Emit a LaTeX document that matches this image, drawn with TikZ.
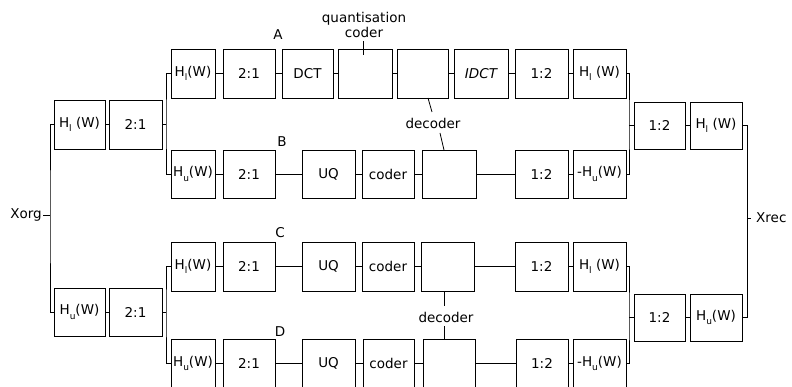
\documentclass[tikz,border=0pt]{standalone}
\usepackage{fontspec}
\setmainfont{DejaVu Sans}
\newcommand\hsub[1]{H\raisebox{-0.6ex}{\fontsize{9}{9}\selectfont #1}}
\tikzset{
  blk/.style={draw, line width=0.9pt, inner sep=0pt, outer sep=0pt, font=\fontsize{13.5}{15}\selectfont},
  wire/.style={line width=0.8pt},
  lbl/.style={font=\fontsize{13.5}{15}\selectfont, inner sep=0pt}
}
\newcommand\bx[6]{\node[blk, minimum width={#4-#2}, minimum height={#5-#3}] (#1) at ({(#2+#4)/2},{(#3+#5)/2}) {#6};}
\begin{document}
\begin{tikzpicture}[x=1pt,y=-1pt]
\useasboundingbox (0,0) rectangle (792,387);
\clip (0,0) rectangle (792,387);
% left stage
\bx{Lah}{54}{100}{105}{149}{\hsub{l} (W)}
\bx{Lad}{109}{100}{162}{149}{2:1}
\bx{Lbh}{54}{288}{105}{336}{\hsub{u}(W)}
\bx{Lbd}{109}{288}{162}{336}{2:1}
% row A
\bx{Ah}{171}{49}{215}{98}{\hsub{l}(W)}
\bx{Ad}{223}{49}{275}{98}{2:1}
\bx{Adct}{282}{49}{333}{98}{DCT}
\bx{Aq}{338}{49}{392}{98}{}
\bx{Adec}{397}{49}{448}{98}{}
\bx{Aidct}{454}{49}{508}{98}{\itshape IDCT}
\bx{Au}{515}{49}{568}{98}{1:2}
\bx{Ahr}{573}{49}{626}{98}{\hsub{l} (W)}
% row B
\bx{Bh}{171}{150}{215}{198}{\hsub{u}(W)}
\bx{Bd}{223}{150}{275}{198}{2:1}
\bx{Buq}{302}{150}{355}{198}{UQ}
\bx{Bc}{362}{150}{414}{198}{coder}
\bx{Bdec}{422}{150}{476}{198}{}
\bx{Bu}{515}{150}{568}{198}{1:2}
\bx{Bhr}{573}{150}{626}{198}{-\hsub{u}(W)}
% row C
\bx{Ch}{171}{242}{215}{291}{\hsub{l}(W)}
\bx{Cd}{223}{242}{275}{291}{2:1}
\bx{Cuq}{302}{242}{355}{291}{UQ}
\bx{Cc}{362}{242}{414}{291}{coder}
\bx{Cdec}{421}{242}{474}{291}{}
\bx{Cu}{515}{242}{568}{291}{1:2}
\bx{Chr}{573}{242}{626}{291}{\hsub{l} (W)}
% row D
\bx{Dh}{171}{339}{215}{388}{\hsub{u}(W)}
\bx{Dd}{223}{339}{275}{388}{2:1}
\bx{Duq}{302}{339}{355}{388}{UQ}
\bx{Dc}{363}{339}{414}{388}{coder}
\bx{Ddec}{423}{339}{475}{388}{}
\bx{Du}{516}{339}{568}{388}{1:2}
\bx{Dhr}{573}{339}{626}{388}{-\hsub{u}(W)}
% right stage
\bx{Rau}{634}{102}{685}{149}{1:2}
\bx{Rah}{690}{102}{742}{149}{\hsub{l} (W)}
\bx{Rbu}{634}{294}{685}{341}{1:2}
\bx{Rbh}{690}{294}{742}{341}{\hsub{u}(W)}
% labels
\node[lbl] (lA) at (278,35) {A};
\node[lbl] (lB) at (282,142) {B};
\node[lbl] (lC) at (280,233) {C};
\node[lbl] (lD) at (280,332) {D};
\node[lbl, align=center] (qlab) at (364,25) {quantisation\\coder};
\node[lbl] (dec1) at (433,123) {decoder};
\node[lbl] (dec2) at (446,317) {decoder};
\node[lbl, anchor=east, inner xsep=1pt] (Xorg) at (43,215) {Xorg};
\node[lbl, anchor=west, inner xsep=5pt] (Xrec) at (751,218) {Xrec};
% junction coordinates
\coordinate (jX) at (50,215);
\coordinate (jA) at (166,124.5);
\coordinate (jB) at (166,312);
\coordinate (jR) at (629,125.5);
\coordinate (jS) at (629,317.5);
\coordinate (jE) at (747,218);
\coordinate (tq1) at (363,41);
\coordinate (tq2) at (363,55);
\coordinate (d1a) at (428,98);
\coordinate (d1b) at (432,112);
\coordinate (d1c) at (440,133);
\coordinate (d1d) at (444,150);
\coordinate (d2a) at (444,291);
\coordinate (d2b) at (444,306);
\coordinate (d2c) at (444,326);
\coordinate (d2d) at (444,339);
% input split
\draw[wire] (Xorg.east) -- (jX);
\draw[wire] (Lah.west) -| (jX) |- (Lbh.west);
\draw[wire] (Lah) -- (Lad);
\draw[wire] (Lbh) -- (Lbd);
\draw[wire] (Lad.east) -- (jA);
\draw[wire] (Ah.west) -| (jA) |- (Bh.west);
\draw[wire] (Lbd.east) -- (jB);
\draw[wire] (Ch.west) -| (jB) |- (Dh.west);
% rows
\draw[wire] (Ah) -- (Ad); \draw[wire] (Ad) -- (Adct); \draw[wire] (Adct) -- (Aq);
\draw[wire] (Aq) -- (Adec); \draw[wire] (Adec) -- (Aidct); \draw[wire] (Aidct) -- (Au);
\draw[wire] (Au) -- (Ahr);
\foreach \r in {B,C,D}{
  \draw[wire] (\r h) -- (\r d); \draw[wire] (\r d) -- (\r uq); \draw[wire] (\r uq) -- (\r c);
  \draw[wire] (\r c) -- (\r dec); \draw[wire] (\r dec) -- (\r u); \draw[wire] (\r u) -- (\r hr);
}
% output merge
\draw[wire] (Ahr.east) -| (jR) |- (Bhr.east);
\draw[wire] (jR) -- (Rau.west);
\draw[wire] (Chr.east) -| (jS) |- (Dhr.east);
\draw[wire] (jS) -- (Rbu.west);
\draw[wire] (Rau) -- (Rah);
\draw[wire] (Rbu) -- (Rbh);
\draw[wire] (Rah.east) -| (jE) |- (Rbh.east);
\draw[wire] (jE) -- (Xrec.west);
% label leaders
\draw[wire] (tq1) -- (tq2);
\draw[wire] (d1a) -- (d1b);
\draw[wire] (d1c) -- (d1d);
\draw[wire] (d2a) -- (d2b);
\draw[wire] (d2c) -- (d2d);
\end{tikzpicture}
\end{document}
